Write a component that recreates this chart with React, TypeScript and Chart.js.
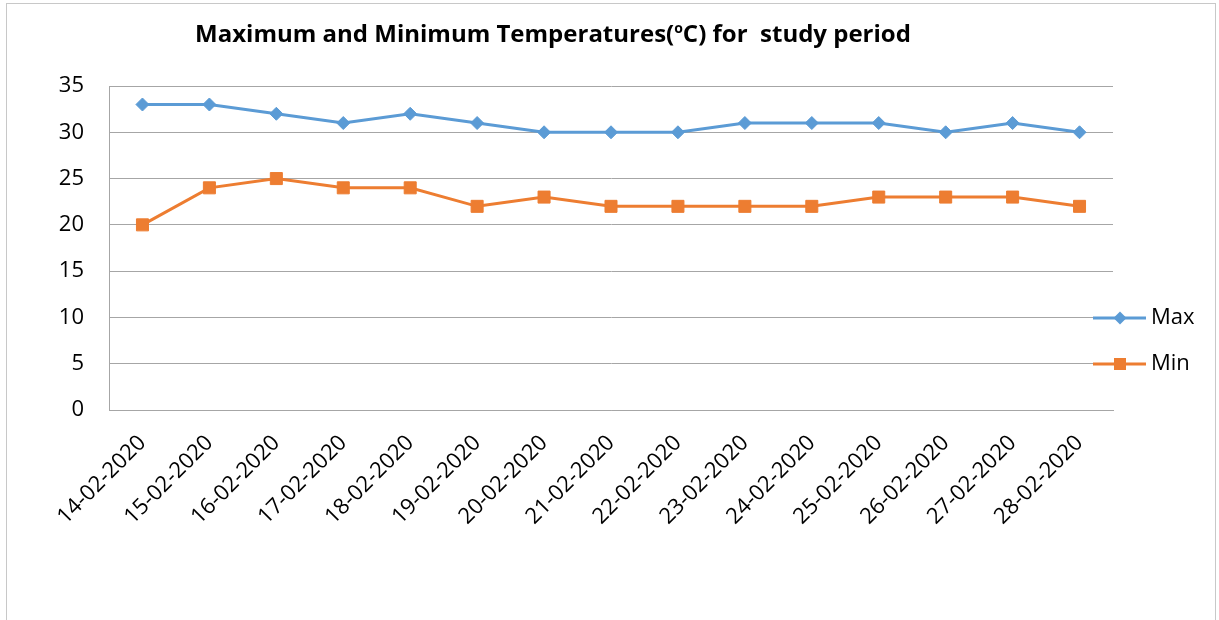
import React, { useEffect, useRef } from "react";
import { Chart, registerables } from "chart.js";

Chart.register(...registerables);

const categories = [
  "14-02-2020", "15-02-2020", "16-02-2020", "17-02-2020", "18-02-2020",
  "19-02-2020", "20-02-2020", "21-02-2020", "22-02-2020", "23-02-2020",
  "24-02-2020", "25-02-2020", "26-02-2020", "27-02-2020", "28-02-2020",
];
const maxTemps = [33, 33, 32, 31, 32, 31, 30, 30, 30, 31, 31, 31, 30, 31, 30];
const minTemps = [20, 24, 25, 24, 24, 22, 23, 22, 22, 22, 22, 23, 23, 23, 22];
const seriesNames = ["Max", "Min"];
const titleParts = ["Maximum and Minimum Temperatures(", "o", "C) for  study period"];

const FONT = "'Open Sans', 'Noto Sans', sans-serif";
const BLUE = "#5B9BD5";
const ORANGE = "#ED7D31";

const titlePlugin = {
  id: "customTitle",
  afterDraw(chart: any) {
    const ctx = chart.ctx;
    ctx.save();
    ctx.fillStyle = "#000";
    ctx.textBaseline = "alphabetic";
    ctx.textAlign = "left";
    const big = `bold 24px ${FONT}`;
    const small = `bold 14px ${FONT}`;
    ctx.font = big;
    const w1 = ctx.measureText(titleParts[0]).width;
    const w3 = ctx.measureText(titleParts[2]).width;
    ctx.font = small;
    const w2 = ctx.measureText(titleParts[1]).width;
    const total = w1 + w2 + w3;
    const cx = 553;
    const base = 42;
    let x = cx - total / 2;
    ctx.font = big;
    ctx.fillText(titleParts[0], x, base);
    x += w1;
    ctx.font = small;
    ctx.fillText(titleParts[1], x, base - 9);
    x += w2;
    ctx.font = big;
    ctx.fillText(titleParts[2], x, base);
    ctx.restore();
  },
};

const legendPlugin = {
  id: "customLegend",
  afterDraw(chart: any) {
    const ctx = chart.ctx;
    const yPos = [318, 364];
    ctx.save();
    chart.data.datasets.forEach((ds: any, i: number) => {
      const y = yPos[i];
      ctx.strokeStyle = ds.borderColor;
      ctx.lineWidth = 3;
      ctx.beginPath();
      ctx.moveTo(1093, y);
      ctx.lineTo(1146, y);
      ctx.stroke();
      ctx.fillStyle = ds.borderColor;
      ctx.beginPath();
      if (ds.pointStyle === "rectRot") {
        const r = 6.5;
        ctx.moveTo(1120, y - r);
        ctx.lineTo(1120 + r, y);
        ctx.lineTo(1120, y + r);
        ctx.lineTo(1120 - r, y);
        ctx.closePath();
      } else {
        ctx.rect(1114, y - 6, 12, 12);
      }
      ctx.fill();
      ctx.fillStyle = "#000";
      ctx.font = `22px ${FONT}`;
      ctx.textBaseline = "middle";
      ctx.textAlign = "left";
      ctx.fillText(ds.label, 1151, y);
    });
    ctx.restore();
  },
};

export default function App() {
  const ref = useRef<HTMLCanvasElement | null>(null);

  useEffect(() => {
    if (!ref.current) return;
    const chart = new Chart(ref.current, {
      type: "line",
      data: {
        labels: categories,
        datasets: [
          {
            label: seriesNames[0],
            data: maxTemps,
            borderColor: BLUE,
            backgroundColor: BLUE,
            borderWidth: 3,
            pointStyle: "rectRot",
            pointRadius: 6.5,
            pointBorderWidth: 1,
            tension: 0,
          },
          {
            label: seriesNames[1],
            data: minTemps,
            borderColor: ORANGE,
            backgroundColor: ORANGE,
            borderWidth: 3,
            pointStyle: "rect",
            pointRadius: 8.5,
            pointBorderWidth: 1,
            tension: 0,
          },
        ],
      },
      options: {
        animation: false,
        responsive: false,
        maintainAspectRatio: false,
        layout: { padding: { left: 0, top: 86, right: 106, bottom: 0 } },
        plugins: {
          legend: { display: false },
          title: { display: false },
          tooltip: { enabled: false },
        },
        scales: {
          x: {
            offset: true,
            grid: { display: false, drawTicks: false },
            border: { display: true, color: "#a6a6a6", width: 1 },
            ticks: {
              color: "#000",
              font: { family: FONT, size: 22 },
              minRotation: 45,
              maxRotation: 45,
              padding: 20,
              autoSkip: false,
            },
            afterFit: (s: any) => {
              s.height = 210;
            },
          },
          y: {
            min: 0,
            max: 35,
            ticks: {
              stepSize: 5,
              color: "#000",
              font: { family: FONT, size: 22 },
              padding: 25,
            },
            grid: { color: "#a6a6a6", lineWidth: 1, drawTicks: false },
            border: { display: true, color: "#a6a6a6", width: 1 },
            afterFit: (s: any) => {
              s.width = 109;
            },
          },
        },
      },
      plugins: [titlePlugin, legendPlugin],
    });
    return () => chart.destroy();
  }, []);

  return (
    <div style={{ position: "fixed", left: 0, top: 0, width: 1219, height: 620, background: "#fff" }}>
      <div
        style={{
          position: "absolute",
          left: 6,
          top: 3,
          width: 1210,
          height: 640,
          border: "1px solid #c8c8c8",
          boxSizing: "border-box",
        }}
      />
      <canvas ref={ref} width={1219} height={620} style={{ position: "absolute", left: 0, top: 0 }} />
    </div>
  );
}
